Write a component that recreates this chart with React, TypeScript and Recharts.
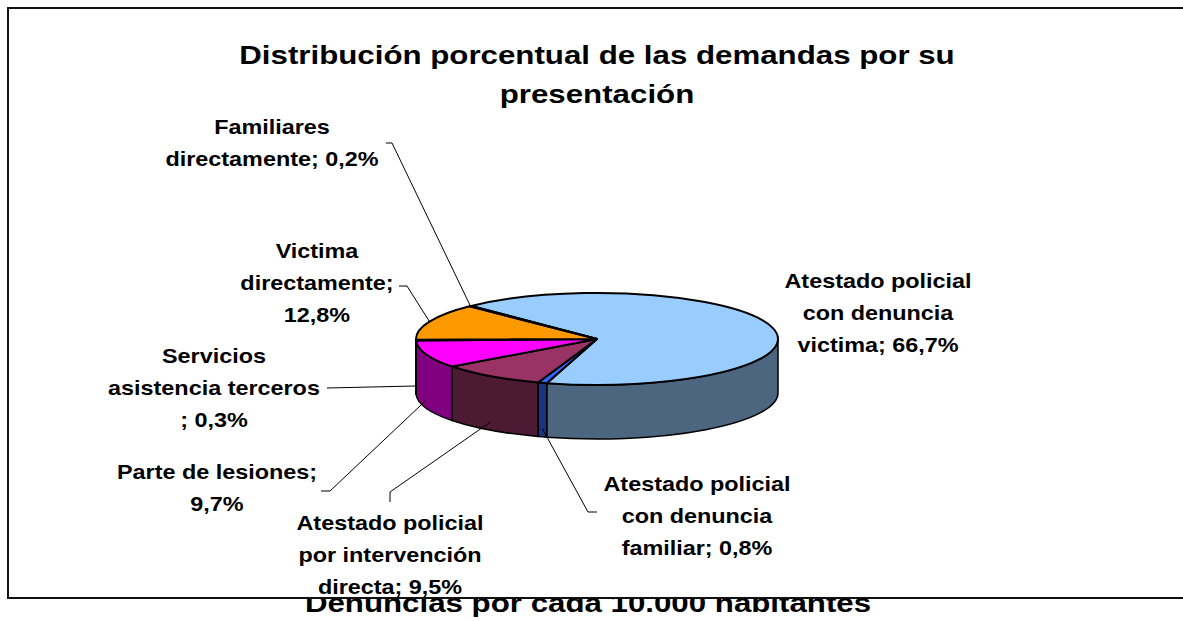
import { PieChart, Pie, Cell } from "recharts";

// categories and values
const categories = [
  "Atestado policial con denuncia victima",
  "Atestado policial con denuncia familiar",
  "Atestado policial por intervención directa",
  "Parte de lesiones",
  "Servicios asistencia terceros",
  "Victima directamente",
  "Familiares directamente",
];
const values = [66.7, 0.8, 9.5, 9.7, 0.3, 12.8, 0.2];

// where each label wraps (token counts after which a new line starts)
const labelBreaks = [[2, 4], [2, 4], [2, 4], [4], [1, 3], [1, 3], [1]];

const topColors = ["#99CCFF", "#3366FF", "#993366", "#FF00FF", "#FFFF99", "#FF9900", "#CCFFCC"];
const sideColors = ["#4D6680", "#1A3380", "#4D1A33", "#800080", "#80804D", "#804D00", "#668066"];

// label placement (text centre, first line) and leader line elbows
const labelLayout = [
  { x: 878, y: 282, lead: [] as number[][] },
  { x: 697, y: 485, lead: [[597, 512], [588, 512]] },
  { x: 390, y: 524, lead: [[390, 502], [390, 492]] },
  { x: 217, y: 473, lead: [[321, 491], [330, 491]] },
  { x: 214, y: 357, lead: [[327, 388]] },
  { x: 317, y: 252, lead: [[399, 286], [407, 286]] },
  { x: 272, y: 128, lead: [[386, 143], [392, 143]] },
];

const data = categories.map((name, i) => ({ name, value: values[i], side: sideColors[i] }));

const FONT = "'Liberation Sans', Arial, sans-serif";
const TILT = 46 / 181;
const DEPTH = 54;
const STRETCH = 1.2;
const START = 134;

const fmt = (v: number) => v.toFixed(1).replace(".", ",") + "%";

function labelText(i: number) {
  const tokens = [...categories[i].split(" "), ";", fmt(values[i])];
  const cuts = [0, ...labelBreaks[i], tokens.length];
  const lines: string[] = [];
  for (let k = 0; k < cuts.length - 1; k++) {
    const part = tokens.slice(cuts[k], cuts[k + 1]);
    let s = "";
    part.forEach((t, j) => {
      if (j === 0) s = t;
      else if (t === ";") s += ";";
      else s += " " + t;
    });
    lines.push(s);
  }
  return lines;
}

function ellPt(cx: number, cy: number, r: number, deg: number, dy = 0) {
  const a = (deg * Math.PI) / 180;
  return [cx + r * Math.cos(a), cy - r * TILT * Math.sin(a) + dy];
}

function Slice3D(props: any) {
  const { cx, cy, outerRadius: r, startAngle, endAngle, fill } = props;
  const side = props.side ?? props.payload?.side ?? "#444";
  const hi = Math.max(startAngle, endAngle);
  const lo = Math.min(startAngle, endAngle);
  const ry = r * TILT;

  // visible front wall = the part of the slice below the centre line
  const sides: number[][] = [];
  for (const k of [-360, 0, 360]) {
    const a = Math.max(lo, -180 + k);
    const b = Math.min(hi, k);
    if (b > a) sides.push([a, b]);
  }

  const p1 = ellPt(cx, cy, r, hi);
  const p2 = ellPt(cx, cy, r, lo);
  const large = hi - lo > 180 ? 1 : 0;
  const top = `M${cx},${cy} L${p1[0]},${p1[1]} A${r},${ry} 0 ${large} 1 ${p2[0]},${p2[1]} Z`;

  return (
    <g>
      {sides.map(([a, b], j) => {
        const t1 = ellPt(cx, cy, r, b);
        const t2 = ellPt(cx, cy, r, a);
        const b2 = ellPt(cx, cy, r, a, DEPTH);
        const b1 = ellPt(cx, cy, r, b, DEPTH);
        const lg = b - a > 180 ? 1 : 0;
        const d = `M${t1[0]},${t1[1]} A${r},${ry} 0 ${lg} 1 ${t2[0]},${t2[1]} L${b2[0]},${b2[1]} A${r},${ry} 0 ${lg} 0 ${b1[0]},${b1[1]} Z`;
        return <path key={j} d={d} fill={side} stroke="#000" strokeWidth={1.5} strokeLinejoin="round" />;
      })}
      <path d={top} fill={fill} stroke="#000" strokeWidth={2} strokeLinejoin="round" />
    </g>
  );
}

function renderLabel(props: any) {
  const { cx, cy, outerRadius: r, midAngle } = props;
  let i = typeof props.index === "number" ? props.index : categories.indexOf(props.name);
  if (i < 0) i = 0;
  const L = labelLayout[i];
  const front = Math.sin((midAngle * Math.PI) / 180) < 0;
  const anchor = ellPt(cx, cy, r, midAngle, front ? DEPTH * 0.85 : 0);
  const pts = L.lead.length ? [...L.lead, anchor] : [];
  return (
    <g key={`lbl-${i}`}>
      {pts.length > 0 && (
        <polyline points={pts.map((p) => p.join(",")).join(" ")} fill="none" stroke="#000" strokeWidth={1} />
      )}
      <g transform={`translate(${L.x},${L.y}) scale(${STRETCH},1)`}>
        <text textAnchor="middle" dominantBaseline="central" fontSize={19.5} fontWeight="bold" fontFamily={FONT} fill="#000">
          {labelText(i).map((s, j) => (
            <tspan key={j} x={0} y={j * 32}>
              {s}
            </tspan>
          ))}
        </text>
      </g>
    </g>
  );
}

export default function App() {
  return (
    <div style={{ position: "absolute", left: 0, top: 0, width: 1183, height: 621, overflow: "hidden", background: "#fff" }}>
      <div
        style={{
          position: "absolute",
          left: 0,
          top: 588,
          width: 1176,
          textAlign: "center",
          fontFamily: FONT,
          fontWeight: "bold",
          fontSize: 25,
          lineHeight: "30px",
          transform: "scaleX(1.25)",
          color: "#000",
        }}
      >
        Denuncias por cada 10.000 habitantes
      </div>
      <div
        style={{
          position: "absolute",
          left: 7,
          top: 7,
          width: 1300,
          height: 588,
          border: "2px solid #111",
          background: "#fff",
        }}
      />
      <div
        style={{
          position: "absolute",
          left: 0,
          top: 35.5,
          width: 1194,
          textAlign: "center",
          fontFamily: FONT,
          fontWeight: "bold",
          fontSize: 25,
          lineHeight: "39px",
          transform: "scaleX(1.25)",
          color: "#000",
        }}
      >
        Distribución porcentual de las demandas por su
        <br />
        presentación
      </div>
      <div style={{ position: "absolute", left: 0, top: 0 }}>
        <PieChart width={1183} height={621} margin={{ top: 0, right: 0, bottom: 0, left: 0 }}>
          <Pie
            data={data}
            dataKey="value"
            nameKey="name"
            cx={597}
            cy={339}
            outerRadius={181}
            startAngle={START}
            endAngle={START - 360}
            stroke="none"
            isAnimationActive={false}
            labelLine={false}
            label={renderLabel}
            shape={Slice3D}
            inactiveShape={Slice3D}
            activeShape={Slice3D}
          >
            {data.map((d, i) => (
              <Cell key={d.name} fill={topColors[i]} />
            ))}
          </Pie>
        </PieChart>
      </div>
    </div>
  );
}
